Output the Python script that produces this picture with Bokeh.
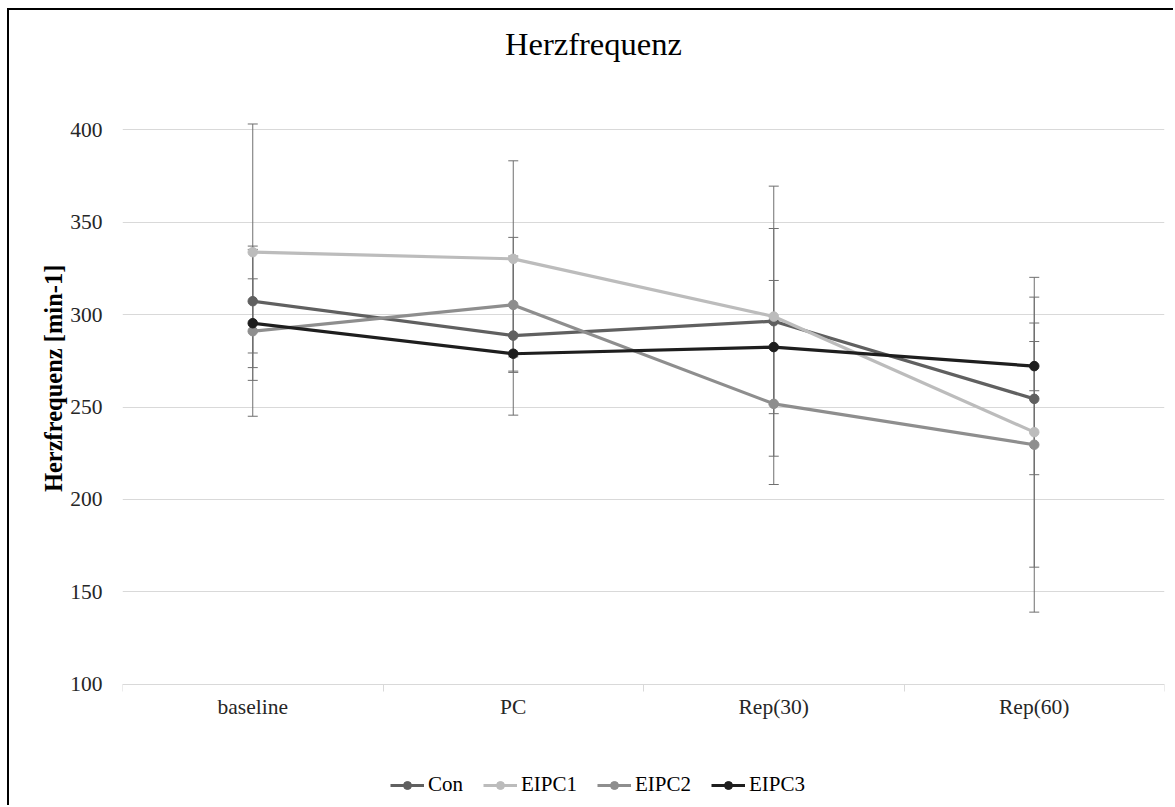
from bokeh.plotting import figure
from bokeh.models import (ColumnDataSource, Whisker, TeeHead, FixedTicker, Range1d,
                          Legend, Label)
from bokeh.embed import file_html
from bokeh.resources import INLINE

categories = ["baseline", "PC", "Rep(30)", "Rep(60)"]
series_names = ["Con", "EIPC1", "EIPC2", "EIPC3"]
con_mean = [307.2, 288.6, 296.4, 254.4]
con_sd = [28.0, 43.0, 73.0, 41.0]
eipc1_mean = [333.7, 330.1, 298.9, 236.4]
eipc1_sd = [69.3, 53.0, 47.6, 73.0]
eipc2_mean = [291.0, 305.2, 251.7, 229.6]
eipc2_sd = [46.0, 36.5, 43.6, 90.5]
eipc3_mean = [295.3, 278.8, 282.4, 272.1]
eipc3_sd = [24.0, 9.4, 36.0, 13.3]
y_ticks = [100, 150, 200, 250, 300, 350, 400]
title_text = "Herzfrequenz"
y_label = "Herzfrequenz [min-1]"

colors = ["#606060", "#bcbcbc", "#8e8e8e", "#1e1e1e"]
means = [con_mean, eipc1_mean, eipc2_mean, eipc3_mean]
sds = [con_sd, eipc1_sd, eipc2_sd, eipc3_sd]

SERIF = "Liberation Serif"

# frame spans the full canvas height; the x axis sits at y = 100 inside it
p = figure(width=1166, height=797, output_backend="svg", toolbar_location=None,
           x_range=Range1d(0, len(categories)), y_range=Range1d(33.48, 464.36))
p.margin = (8, 0, 0, 7)
p.styles = {"border-top": "2px solid #000000", "border-left": "2px solid #000000"}
p.min_border_left = 113
p.min_border_right = 11
p.min_border_top = 0
p.min_border_bottom = 0
p.title.visible = False
p.outline_line_color = None
p.background_fill_color = "white"
p.border_fill_color = "white"

xs = [i + 0.5 for i in range(len(categories))]

# x axis: labels at category centres, ticks at category boundaries
xa = p.xaxis[0]
xa.fixed_location = y_ticks[0]
xa.ticker = FixedTicker(ticks=xs, minor_ticks=list(range(len(categories) + 1)))
xa.major_label_overrides = {x: c for x, c in zip(xs, categories)}
xa.major_tick_line_color = None
xa.major_tick_out = 0
xa.major_tick_in = 0
xa.minor_tick_line_color = "#d9d9d9"
xa.minor_tick_out = 7
xa.minor_tick_in = 0
xa.axis_line_color = "#d9d9d9"
xa.axis_line_width = 1
xa.major_label_text_font = SERIF
xa.major_label_text_font_size = "21.5px"
xa.major_label_text_color = "#262626"
xa.major_label_standoff = 4

ya = p.yaxis[0]
ya.ticker = FixedTicker(ticks=y_ticks)
ya.axis_line_color = None
ya.major_tick_line_color = None
ya.minor_tick_line_color = None
ya.major_label_text_font = SERIF
ya.major_label_text_font_size = "21.5px"
ya.major_label_text_color = "#262626"
ya.major_label_standoff = 14
# leading no-break spaces nudge the centred label up to where the reference has it
ya.axis_label = "\u00a0" * 10 + y_label
ya.axis_label_text_font = SERIF
ya.axis_label_text_font_style = "bold"
ya.axis_label_text_font_size = "24.5px"
ya.axis_label_text_color = "#000000"
ya.axis_label_standoff = 0

p.xgrid.grid_line_color = None
p.ygrid.grid_line_color = "#d9d9d9"
p.ygrid.grid_line_width = 1

# error bars
for m, s in zip(means, sds):
    src = ColumnDataSource(dict(x=xs, upper=[a + b for a, b in zip(m, s)],
                                lower=[a - b for a, b in zip(m, s)]))
    w = Whisker(base="x", upper="upper", lower="lower", source=src,
                line_color="#6f6f6f", line_width=1,
                upper_head=TeeHead(size=10, line_color="#6f6f6f", line_width=1),
                lower_head=TeeHead(size=10, line_color="#6f6f6f", line_width=1))
    p.add_layout(w)

items = []
for name, m, c in zip(series_names, means, colors):
    src = ColumnDataSource(dict(x=xs, y=m))
    r1 = p.line("x", "y", source=src, line_color=c, line_width=3.2)
    r2 = p.scatter("x", "y", source=src, size=9.5, fill_color=c, line_color=c)
    items.append((name, [r1, r2]))

legend = Legend(items=items, orientation="horizontal", location=(268, 10),
                label_text_font=SERIF, label_text_font_size="21px",
                label_text_color="#000000", glyph_width=34, glyph_height=20,
                label_standoff=4, spacing=20, padding=0, margin=0,
                border_line_color=None, background_fill_alpha=0)
p.add_layout(legend, "center")

title = Label(x=1.808, y=446.5, text=title_text, text_font=SERIF,
              text_font_size="32.5px", text_align="center", text_baseline="middle",
              text_color="#000000")
p.add_layout(title)

open("out.html", "w").write(file_html(p, INLINE))
